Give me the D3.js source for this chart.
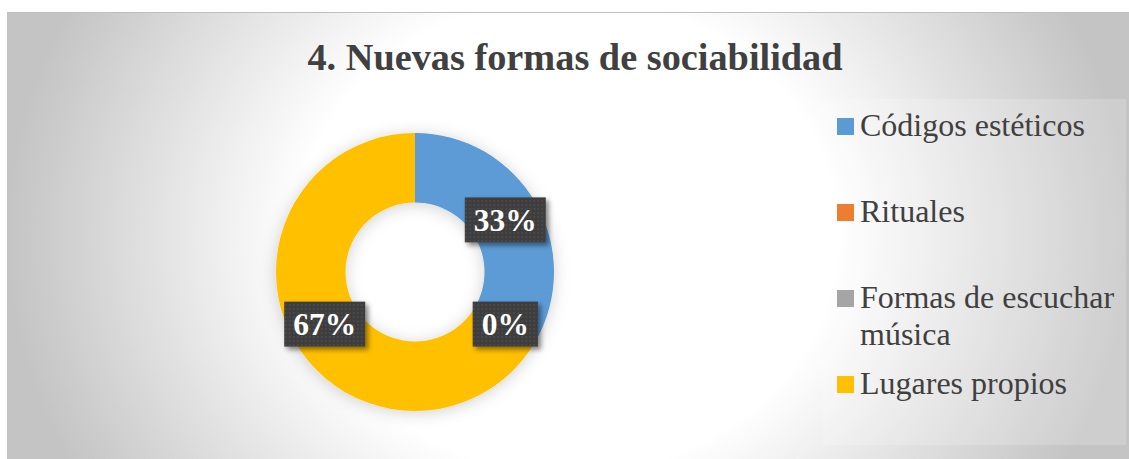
<!DOCTYPE html>
<html><head><meta charset="utf-8">
<script src="https://cdn.jsdelivr.net/npm/d3@7"></script>
<style>html,body{margin:0;padding:0;background:#fff;}svg{display:block;}</style>
</head><body>
<svg id="chart" width="1129" height="459"></svg>
<script>
const title = "4. Nuevas formas de sociabilidad";
const categories = ["Códigos estéticos", "Rituales", "Formas de escuchar música", "Lugares propios"];
const values = [33.33, null, 0, 66.67];
const labels = ["33%", null, "0%", "67%"];
const colors = ["#5B9BD5", "#ED7D31", "#A5A5A5", "#FFC000"];
const legendLines = [["Códigos estéticos"], ["Rituales"], ["Formas de escuchar", "música"], ["Lugares propios"]];

const svg = d3.select("#chart");
const defs = svg.append("defs");
const serif = "'Liberation Serif','Times New Roman',serif";

// background gradient
const bg = defs.append("radialGradient").attr("id","bg")
  .attr("cx",0.5).attr("cy",0.5).attr("r",0.5)
  .attr("gradientTransform","translate(0.5,0.5) scale(1,2.2) translate(-0.5,-0.5)");
bg.append("stop").attr("offset","0%").attr("stop-color","#ffffff");
bg.append("stop").attr("offset","48%").attr("stop-color","#ffffff");
bg.append("stop").attr("offset","100%").attr("stop-color","#c4c4c4");

const pat = defs.append("pattern").attr("id","dots").attr("width",4).attr("height",4).attr("patternUnits","userSpaceOnUse");
pat.append("rect").attr("width",4).attr("height",4).attr("fill","#3d3d3d");
pat.append("rect").attr("x",0).attr("y",0).attr("width",2).attr("height",2).attr("fill","#4a4a4a");

const sh = defs.append("filter").attr("id","boxshadow").attr("x","-20%").attr("y","-20%").attr("width","150%").attr("height","160%");
sh.append("feDropShadow").attr("dx",3).attr("dy",3).attr("stdDeviation",2.5).attr("flood-color","#000").attr("flood-opacity",0.45);

const dsh = defs.append("filter").attr("id","donutshadow").attr("x","-20%").attr("y","-20%").attr("width","140%").attr("height","140%");
dsh.append("feDropShadow").attr("dx",0).attr("dy",2).attr("stdDeviation",8).attr("flood-color","#000").attr("flood-opacity",0.18);

const area = {x:7, y:12, w:1122, h:447};
svg.append("rect").attr("x",area.x).attr("y",area.y).attr("width",area.w).attr("height",area.h).attr("fill","url(#bg)");
svg.append("line").attr("x1",area.x).attr("x2",area.x+area.w).attr("y1",area.y+0.5).attr("y2",area.y+0.5).attr("stroke","#bfbfbf").attr("stroke-width",1);

// title
svg.append("text").attr("x",575).attr("y",70).attr("text-anchor","middle")
  .attr("font-family",serif).attr("font-weight","bold")
  .attr("font-size",38.3).attr("fill","#404040").text(title);

// donut
const cx = 415, cy = 272, rOuter = 139, rInner = 69.5;
const pie = d3.pie().sort(null).value(d => d.v || 0);
const data = categories.map((c,i)=>({c, v: values[i], label: labels[i], color: colors[i]}));
const arcs = pie(data);
const arc = d3.arc().innerRadius(rInner).outerRadius(rOuter);
const labelArc = d3.arc().innerRadius((rInner+rOuter)/2).outerRadius((rInner+rOuter)/2);

const g = svg.append("g").attr("transform",`translate(${cx},${cy})`);
g.append("g").attr("filter","url(#donutshadow)").selectAll("path").data(arcs).join("path")
  .attr("d",arc).attr("fill",d=>d.data.color);

const lg = g.selectAll("g.lab").data(arcs.filter(d=>d.data.label!==null)).join("g").attr("class","lab")
  .attr("transform",d=>{const [x,y]=labelArc.centroid(d); return `translate(${x},${y})`;});
lg.each(function(d){
  const s = d3.select(this);
  const t = s.append("text").attr("text-anchor","middle").attr("dy","0.35em")
    .attr("font-family",serif).attr("font-weight","bold")
    .attr("font-size",31.5).attr("fill","#ffffff").text(d.data.label);
  const bb = t.node().getBBox();
  const padX = 9, h = 45;
  s.insert("rect","text").attr("x",bb.x-padX).attr("y",-h/2).attr("width",bb.width+2*padX).attr("height",h)
    .attr("fill","url(#dots)").attr("filter","url(#boxshadow)");
});

// legend
const legend = {x:823, y:99, w:303, h:346};
svg.append("rect").attr("x",legend.x).attr("y",legend.y).attr("width",legend.w).attr("height",legend.h)
  .attr("fill","#ffffff").attr("fill-opacity",0.18);
const ly = d3.scalePoint().domain(categories).range([118, 376]);
categories.forEach((c,i)=>{
  const y0 = ly(c);
  svg.append("rect").attr("x",837).attr("y",y0).attr("width",17).attr("height",17).attr("fill",colors[i]);
  const t = svg.append("text").attr("x",860).attr("y",y0+18)
    .attr("font-family",serif).attr("font-size",32).attr("fill","#404040");
  legendLines[i].forEach((ln,j)=>{
    t.append("tspan").attr("x",860).attr("dy", j===0?0:37).text(ln);
  });
});
</script>
</body></html>
